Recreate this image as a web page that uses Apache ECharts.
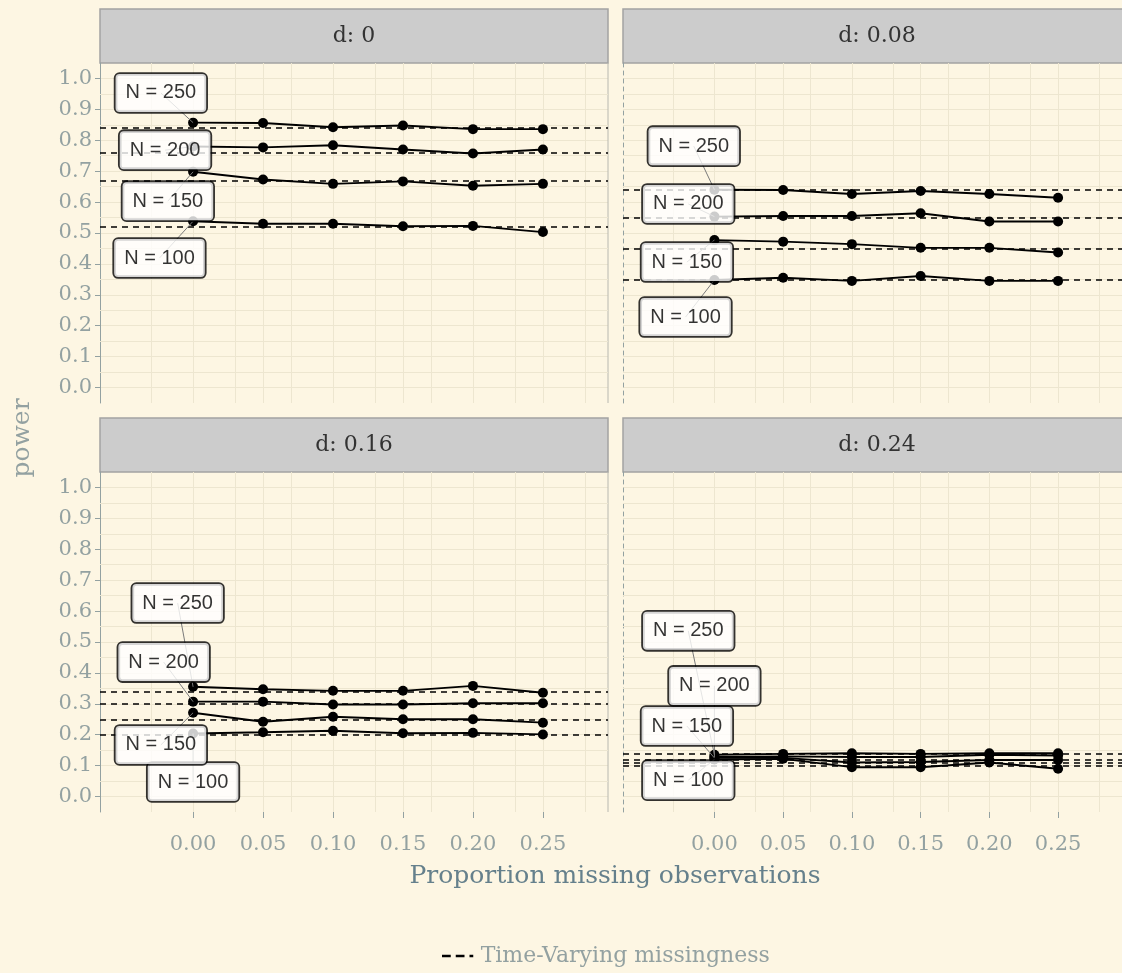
<!DOCTYPE html>
<html>
<head>
<meta charset="utf-8">
<script src="https://cdn.jsdelivr.net/npm/echarts@6/dist/echarts.min.js"></script>
<style>
  html, body { margin: 0; padding: 0; background: #fdf6e3; }
  #chart { width: 1122px; height: 973px; }
</style>
</head>
<body>
<div id="chart"></div>
<script>
// x positions (proportion missing) and tick values
const xValues = [0, 0.05, 0.10, 0.15, 0.20, 0.25]
const xTicks = [0, 0.05, 0.10, 0.15, 0.20, 0.25]
const xMinor = [-0.025, 0.025, 0.075, 0.125, 0.175, 0.225, 0.275]
const yTicks = [0, 0.1, 0.2, 0.3, 0.4, 0.5, 0.6, 0.7, 0.8, 0.9, 1.0]
const yMinor = [0.05, 0.15, 0.25, 0.35, 0.45, 0.55, 0.65, 0.75, 0.85, 0.95]

const panelNames = ['d: 0', 'd: 0.08', 'd: 0.16', 'd: 0.24']
const groupNames = ['N = 100', 'N = 150', 'N = 200', 'N = 250']

// power per sample size, d = 0
const d0_n100 = [0.538, 0.530, 0.530, 0.522, 0.523, 0.503]
const d0_n150 = [0.698, 0.673, 0.659, 0.667, 0.653, 0.659]
const d0_n200 = [0.780, 0.777, 0.784, 0.770, 0.757, 0.770]
const d0_n250 = [0.857, 0.856, 0.842, 0.848, 0.836, 0.836]
// d = 0.08
const d08_n100 = [0.348, 0.355, 0.345, 0.361, 0.345, 0.345]
const d08_n150 = [0.477, 0.472, 0.464, 0.452, 0.452, 0.437]
const d08_n200 = [0.553, 0.555, 0.555, 0.564, 0.537, 0.537]
const d08_n250 = [0.640, 0.639, 0.626, 0.636, 0.626, 0.614]
// d = 0.16
const d16_n100 = [0.204, 0.208, 0.213, 0.205, 0.206, 0.201]
const d16_n150 = [0.271, 0.242, 0.258, 0.250, 0.250, 0.239]
const d16_n200 = [0.307, 0.307, 0.298, 0.298, 0.302, 0.302]
const d16_n250 = [0.355, 0.347, 0.342, 0.342, 0.358, 0.336]
// d = 0.24
const d24_n100 = [0.120, 0.122, 0.095, 0.095, 0.110, 0.090]
const d24_n150 = [0.125, 0.125, 0.110, 0.112, 0.118, 0.118]
const d24_n200 = [0.128, 0.130, 0.128, 0.128, 0.135, 0.133]
const d24_n250 = [0.135, 0.138, 0.140, 0.138, 0.140, 0.140]

// time-varying missingness reference (dashed), N = 100..250
const tv_d0 = [0.516, 0.673, 0.764, 0.842]
const tv_d08 = [0.350, 0.452, 0.550, 0.636]
const tv_d16 = [0.201, 0.250, 0.302, 0.342]
const tv_d24 = [0.102, 0.109, 0.124, 0.138]

// label anchor positions (data coords) for N = 100..250
const lab_d0 = [[-0.024, 0.419], [-0.018, 0.603], [-0.020, 0.768], [-0.023, 0.953]]
const lab_d08 = [[-0.021, 0.228], [-0.020, 0.406], [-0.019, 0.594], [-0.015, 0.781]]
const lab_d16 = [[0.0, 0.047], [-0.023, 0.167], [-0.021, 0.435], [-0.011, 0.626]]
const lab_d24 = [[-0.019, 0.053], [-0.020, 0.228], [0.0, 0.358], [-0.019, 0.536]]

const panels = [
  { lines: [d0_n100, d0_n150, d0_n200, d0_n250], tv: tv_d0, labels: lab_d0 },
  { lines: [d08_n100, d08_n150, d08_n200, d08_n250], tv: tv_d08, labels: lab_d08 },
  { lines: [d16_n100, d16_n150, d16_n200, d16_n250], tv: tv_d16, labels: lab_d16 },
  { lines: [d24_n100, d24_n150, d24_n200, d24_n250], tv: tv_d24, labels: lab_d24 }
]

const bg = '#fdf6e3'
const gridColor = '#ede6d0'
const axisGrey = '#93a1a1'
const serif = 'DejaVu Serif'
const stripH = 54

const grids = [
  { left: 100, top: 63, width: 508, height: 340 },
  { left: 623, top: 63, width: 508, height: 340 },
  { left: 100, top: 472, width: 508, height: 340 },
  { left: 623, top: 472, width: 508, height: 340 }
]

const xAxes = grids.map((g, i) => {
  const bottom = i >= 2
  return {
    type: 'value', gridIndex: i, min: -0.0665, max: 0.2965, splitNumber: 7,
    axisLine: { show: false, onZero: false },
    axisTick: { show: bottom, length: 6, customValues: xTicks, lineStyle: { color: axisGrey } },
    axisLabel: {
      show: bottom, customValues: xTicks, margin: 22,
      formatter: v => v.toFixed(2),
      color: axisGrey, fontFamily: serif, fontSize: 21
    },
    splitLine: { show: true, lineStyle: { color: gridColor, width: 1 } }
  }
})

const yAxes = grids.map((g, i) => {
  const left = i % 2 === 0
  return {
    type: 'value', gridIndex: i, min: -0.05, max: 1.05, splitNumber: 11,
    axisLine: { show: true, onZero: false, lineStyle: { color: axisGrey, width: 1, type: left ? 'solid' : [4, 4] } },
    axisTick: { show: left, length: 5, customValues: yTicks, lineStyle: { color: axisGrey } },
    axisLabel: {
      show: left, customValues: yTicks, margin: 8,
      formatter: v => v.toFixed(1),
      color: axisGrey, fontFamily: serif, fontSize: 21
    },
    splitLine: { show: true, lineStyle: { color: gridColor, width: 1 } }
  }
})

const series = []
panels.forEach((p, i) => {
  // minor grid lines
  series.push({
    type: 'line', xAxisIndex: i, yAxisIndex: i, data: [], silent: true,
    markLine: {
      silent: true, symbol: 'none', z: 1, animation: false,
      label: { show: false },
      lineStyle: { color: gridColor, type: 'solid', width: 1 },
      emphasis: { disabled: true },
      data: xMinor.map(v => ({ xAxis: v })).concat(yMinor.map(v => ({ yAxis: v })))
    }
  })
  // dashed reference lines
  series.push({
    name: 'Time-Varying missingness',
    type: 'line', xAxisIndex: i, yAxisIndex: i, data: [], silent: true,
    markLine: {
      silent: true, symbol: 'none', z: 3, animation: false,
      label: { show: false },
      lineStyle: { color: '#000', type: [6, 5], width: 1.7 },
      emphasis: { disabled: true },
      data: p.tv.map(v => ({ yAxis: v }))
    }
  })
  p.lines.forEach((vals, j) => {
    series.push({
      name: groupNames[j] + ' ' + i,
      type: 'line', xAxisIndex: i, yAxisIndex: i, z: 4,
      data: xValues.map((x, k) => [x, vals[k]]),
      symbol: 'circle', symbolSize: 10,
      itemStyle: { color: '#000' },
      lineStyle: { color: '#000', width: 1.9 }
    })
    // leader segment from label to first point
    series.push({
      type: 'line', xAxisIndex: i, yAxisIndex: i, z: 5, silent: true,
      data: [p.labels[j], [xValues[0], vals[0]]],
      symbol: 'none',
      lineStyle: { color: '#7a7a7a', width: 1 }
    })
  })
  series.push({
    type: 'scatter', xAxisIndex: i, yAxisIndex: i, z: 10, silent: true,
    symbol: 'circle', symbolSize: 1,
    itemStyle: { color: 'rgba(0,0,0,0)' },
    data: p.labels.map((pos, j) => ({ value: pos, name: groupNames[j] })),
    label: {
      show: true, position: 'inside', formatter: '{b}',
      backgroundColor: '#fff', borderColor: '#000', borderWidth: 1.8, borderRadius: 4,
      padding: [8, 10], lineHeight: 22,
      fontFamily: 'Liberation Sans', fontSize: 20, color: '#000'
    }
  })
})

const graphic = []
grids.forEach((g, i) => {
  graphic.push({
    type: 'rect', silent: true, z: 0,
    shape: { x: g.left, y: g.top - stripH, width: g.width, height: stripH },
    style: { fill: '#cccccc', stroke: '#a3a3a3', lineWidth: 1.5 }
  })
  graphic.push({
    type: 'text', silent: true, z: 1,
    x: g.left + g.width / 2, y: g.top - stripH / 2,
    style: {
      text: panelNames[i], fill: '#333333', font: '22px "DejaVu Serif"',
      textAlign: 'center', textVerticalAlign: 'middle'
    }
  })
  if (i % 2 === 0) {
    graphic.push({
      type: 'line', silent: true, z: 1,
      shape: { x1: g.left + g.width, y1: g.top, x2: g.left + g.width, y2: g.top + g.height },
      style: { stroke: '#b8b8b0', lineWidth: 1 }
    })
  }
})
graphic.push({
  type: 'text', silent: true,
  x: 615, y: 876,
  style: {
    text: 'Proportion missing observations', fill: '#65808c', font: '25px "DejaVu Serif"',
    textAlign: 'center', textVerticalAlign: 'middle'
  }
})
graphic.push({
  type: 'text', silent: true,
  x: 22, y: 438, rotation: Math.PI / 2,
  style: {
    text: 'power', fill: axisGrey, font: '25px "DejaVu Serif"',
    textAlign: 'center', textVerticalAlign: 'middle'
  }
})

const chart = echarts.init(document.getElementById('chart'))
chart.setOption({
  backgroundColor: bg,
  animation: false,
  grid: grids,
  xAxis: xAxes,
  yAxis: yAxes,
  legend: {
    data: [{ name: 'Time-Varying missingness', icon: 'path://M0,0H7V2H0Z M11,0H18V2H11Z M22,0H25V2H22Z' }],
    left: 437, top: 940, itemWidth: 36, itemHeight: 2.5,
    selectedMode: false,
    itemStyle: { color: '#000' },
    textStyle: { color: axisGrey, fontFamily: serif, fontSize: 22 }
  },
  graphic: graphic,
  series: series
})
</script>
</body>
</html>
